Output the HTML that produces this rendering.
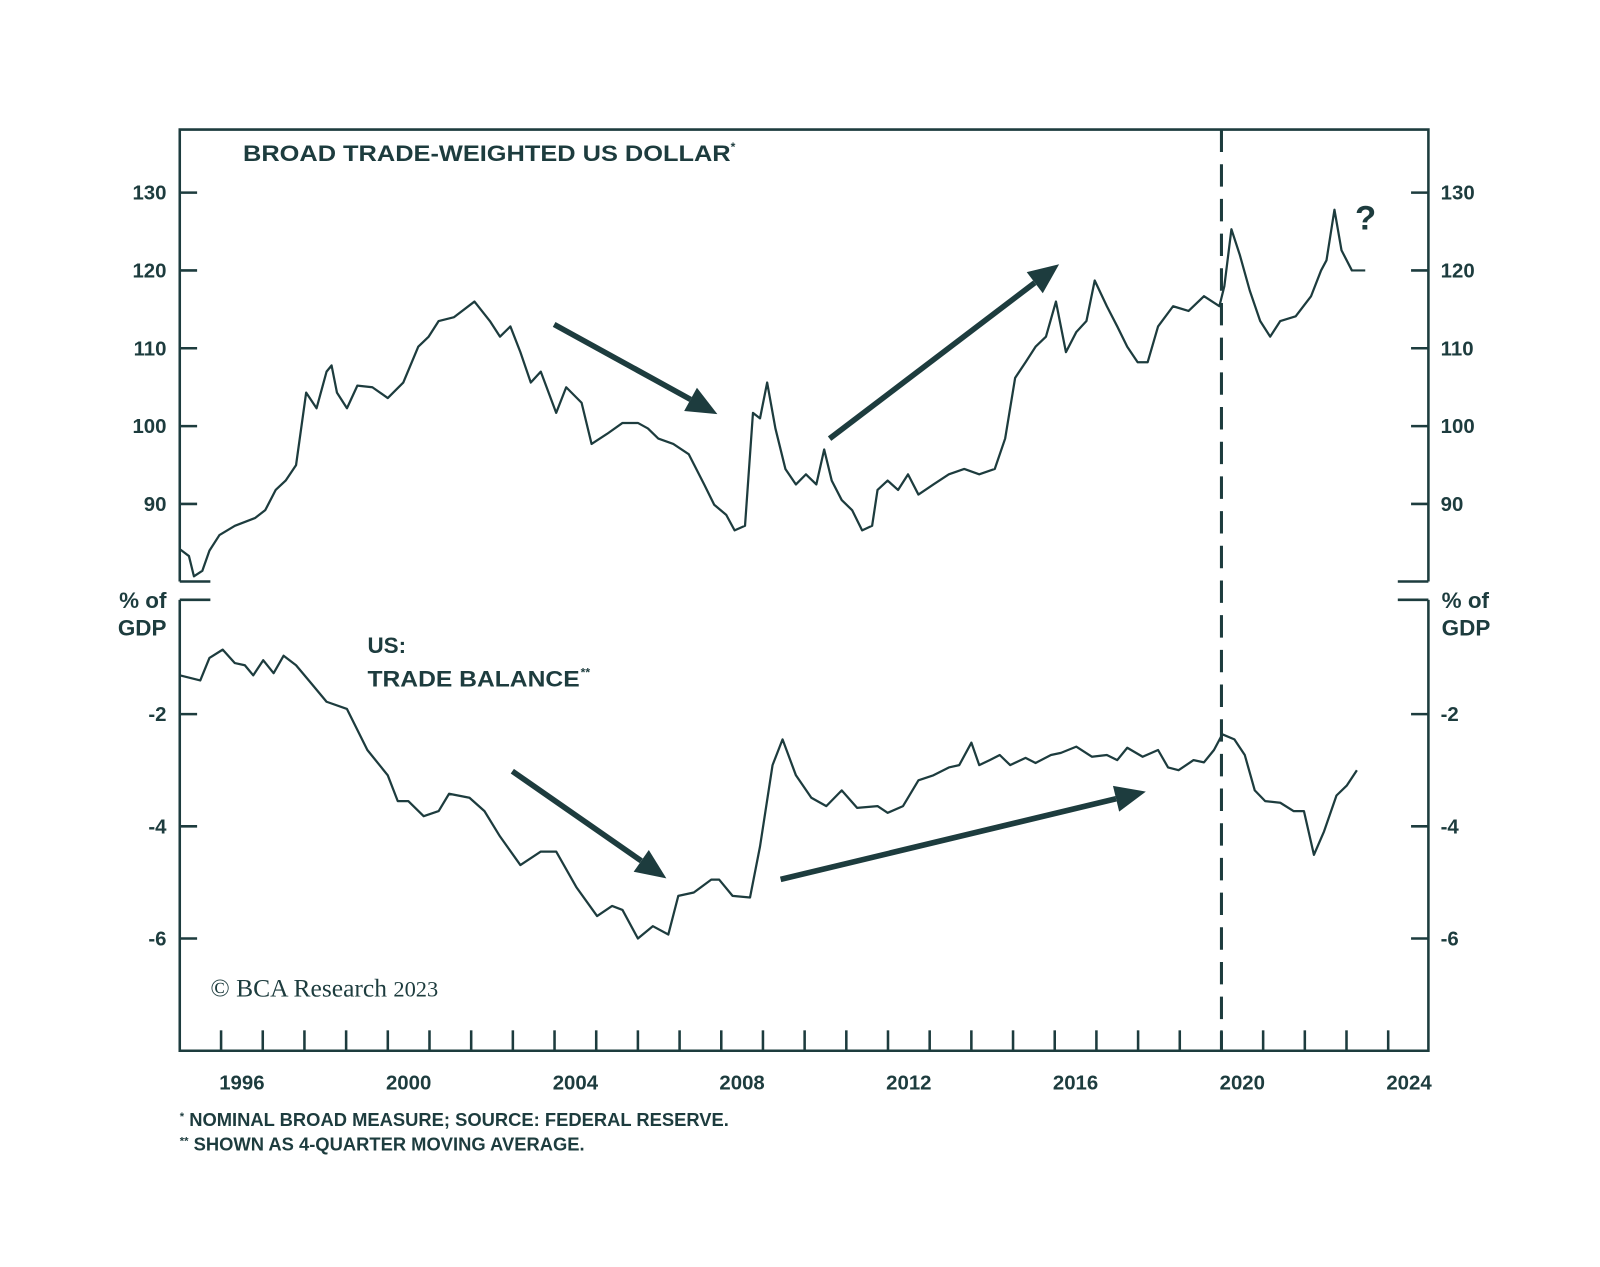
<!DOCTYPE html>
<html><head><meta charset="utf-8">
<style>
html,body{margin:0;padding:0;background:#fff;}
svg{display:block;}
text{font-family:"Liberation Sans",sans-serif;fill:#1d3c3e;}
</style></head>
<body>
<svg id="chart" width="1600" height="1267" viewBox="0 0 1568 1242" xmlns="http://www.w3.org/2000/svg">
<rect width="1568" height="1242" fill="#fff"/>
<g id="frame" stroke="#1d3c3e" stroke-width="2.5" fill="none">
  <path d="M176,570 L176,127 L1400,127 L1400,570"/>
  <path d="M176,570 L206,570 M1370,570 L1400,570"/>
  <path d="M176,588 L206,588 M1370,588 L1400,588"/>
  <path d="M176,588 L176,1030 L1400,1030 L1400,588"/>
</g>
<text x="238" y="158" font-size="22" font-weight="bold" textLength="478" lengthAdjust="spacingAndGlyphs">BROAD TRADE-WEIGHTED US DOLLAR</text>
<text x="716" y="148" font-size="12" font-weight="bold">*</text>
<text x="360" y="640" font-size="22" font-weight="bold">US:</text>
<text x="360" y="673" font-size="22" font-weight="bold" textLength="208" lengthAdjust="spacingAndGlyphs">TRADE BALANCE</text>
<text x="569" y="663" font-size="12" font-weight="bold">**</text>
<text x="163" y="596" font-size="22" font-weight="bold" text-anchor="end">% of</text>
<text x="163" y="623" font-size="22" font-weight="bold" text-anchor="end">GDP</text>
<text x="1413" y="596" font-size="22" font-weight="bold">% of</text>
<text x="1413" y="623" font-size="22" font-weight="bold">GDP</text>
<text x="1328" y="225" font-size="34" font-weight="bold">?</text>
<text x="206" y="977" font-size="25" style="font-family:'Liberation Serif',serif">© BCA Research <tspan font-size="22">2023</tspan></text>
<text x="176" y="1104" font-size="18" font-weight="bold"><tspan font-size="11" dy="-6">*</tspan><tspan dy="6"> NOMINAL BROAD MEASURE; SOURCE: FEDERAL RESERVE.</tspan></text>
<text x="176" y="1128" font-size="18" font-weight="bold"><tspan font-size="11" dy="-6">**</tspan><tspan dy="6"> SHOWN AS 4-QUARTER MOVING AVERAGE.</tspan></text>
<g id="axes"></g>
<g id="series"></g>
<g id="arrows" fill="#1d3c3e" stroke="#1d3c3e"></g>
</svg>
<script>
// ---- data ----
const dollarYears = [1995.01,1995.23,1995.35,1995.55,1995.72,1995.96,1996.33,1996.82,1997.06,1997.31,1997.55,1997.80,1998.04,1998.29,1998.53,1998.65,1998.78,1999.02,1999.27,1999.63,2000.00,2000.37,2000.73,2000.98,2001.22,2001.59,2002.08,2002.45,2002.69,2002.94,2003.18,2003.43,2003.67,2004.04,2004.28,2004.65,2004.89,2005.26,2005.63,2006.00,2006.24,2006.49,2006.85,2007.22,2007.59,2007.83,2008.12,2008.32,2008.57,2008.76,2008.93,2009.10,2009.30,2009.54,2009.79,2010.03,2010.28,2010.47,2010.65,2010.89,2011.14,2011.38,2011.62,2011.75,2011.99,2012.24,2012.48,2012.73,2013.09,2013.46,2013.83,2014.19,2014.56,2014.81,2015.05,2015.30,2015.54,2015.79,2016.03,2016.27,2016.52,2016.76,2016.96,2017.25,2017.50,2017.74,2017.99,2018.23,2018.48,2018.84,2019.21,2019.58,2019.95,2020.07,2020.24,2020.44,2020.68,2020.93,2021.17,2021.41,2021.78,2022.15,2022.39,2022.52,2022.71,2022.88,2023.13,2023.45];
const dollarValues = [84.2,83.3,80.7,81.4,84,86,87.2,88.2,89.2,91.8,93,95,104.3,102.3,107,107.8,104.3,102.3,105.2,105,103.6,105.6,110.2,111.5,113.5,114,116,113.5,111.5,112.8,109.5,105.6,107,101.7,105,103,97.7,99,100.4,100.4,99.7,98.4,97.7,96.4,92.5,89.9,88.6,86.6,87.2,101.7,101,105.6,99.7,94.5,92.5,93.8,92.5,97,93,90.5,89.2,86.6,87.2,91.8,93,91.8,93.8,91.2,92.5,93.8,94.5,93.8,94.5,98.4,106.2,108.2,110.2,111.5,116,109.5,112.1,113.5,118.7,115.4,112.8,110.2,108.2,108.2,112.8,115.4,114.8,116.7,115.4,118,125.3,122,117.4,113.5,111.5,113.5,114.1,116.7,120,121.3,127.8,122.6,120,120];
const tradeYears = [1995.01,1995.50,1995.72,1996.04,1996.33,1996.57,1996.77,1997.01,1997.26,1997.50,1997.80,1998.16,1998.53,1999.02,1999.51,2000.00,2000.24,2000.49,2000.86,2001.22,2001.47,2001.96,2002.32,2002.69,2003.18,2003.67,2004.04,2004.53,2005.02,2005.38,2005.63,2006.00,2006.36,2006.73,2006.97,2007.34,2007.76,2007.95,2008.27,2008.69,2008.93,2009.23,2009.47,2009.79,2010.16,2010.52,2010.89,2011.26,2011.75,2011.99,2012.36,2012.73,2013.09,2013.46,2013.71,2014.00,2014.19,2014.44,2014.68,2014.93,2015.30,2015.54,2015.91,2016.15,2016.52,2016.89,2017.25,2017.50,2017.74,2018.11,2018.48,2018.72,2018.97,2019.33,2019.58,2019.82,2020.02,2020.31,2020.56,2020.80,2021.05,2021.41,2021.73,2021.98,2022.22,2022.46,2022.76,2023.01,2023.25];
const tradeValues = [-1.31,-1.4,-1.0,-0.85,-1.09,-1.13,-1.31,-1.04,-1.27,-0.96,-1.13,-1.45,-1.78,-1.91,-2.64,-3.09,-3.55,-3.55,-3.82,-3.73,-3.42,-3.49,-3.73,-4.18,-4.69,-4.45,-4.45,-5.09,-5.6,-5.42,-5.49,-6.0,-5.78,-5.93,-5.24,-5.18,-4.95,-4.95,-5.24,-5.27,-4.36,-2.91,-2.45,-3.09,-3.49,-3.64,-3.36,-3.67,-3.64,-3.76,-3.64,-3.18,-3.09,-2.95,-2.91,-2.51,-2.91,-2.82,-2.73,-2.91,-2.78,-2.87,-2.73,-2.69,-2.58,-2.76,-2.73,-2.82,-2.6,-2.76,-2.64,-2.95,-3.0,-2.82,-2.86,-2.64,-2.36,-2.45,-2.73,-3.36,-3.55,-3.58,-3.73,-3.73,-4.51,-4.09,-3.45,-3.27,-3.0];
const dollarTicks = [90,100,110,120,130];
const tradeTicks = [-2,-4,-6];
const yearLabels = [1996,2000,2004,2008,2012,2016,2020,2024];
const dashedYear = 2020.0;

// ---- scales ----
const C = '#1d3c3e';
const xS = t => 216.5 + (t - 1996) * 40.86;
const yD = v => 494 - (v - 90) * 7.63;
const yT = v => 700 - (v + 2) * 55;
const NS = 'http://www.w3.org/2000/svg';
const axes = document.getElementById('axes');
const series = document.getElementById('series');
function mk(tag, attrs, parent) {
  const e = document.createElementNS(NS, tag);
  for (const k in attrs) e.setAttribute(k, attrs[k]);
  parent.appendChild(e);
  return e;
}
// y ticks
dollarTicks.forEach(v => {
  const y = yD(v);
  const tl = mk('line', {x1:176, x2:193, y1:y, y2:y, stroke:C, 'stroke-width':2.5}, axes);
  
  
  const tr = mk('line', {x1:1383, x2:1400, y1:y, y2:y, stroke:C, 'stroke-width':2.5}, axes);
  
  
  const a = mk('text', {x:163, y:y+7, 'font-size':20, 'font-weight':'bold', 'text-anchor':'end'}, axes);
  a.textContent = v;
  
  
  const b = mk('text', {x:1412, y:y+7, 'font-size':20, 'font-weight':'bold'}, axes);
  b.textContent = v;
  
  
});
tradeTicks.forEach(v => {
  const y = yT(v);
  const tl = mk('line', {x1:176, x2:193, y1:y, y2:y, stroke:C, 'stroke-width':2.5}, axes);
  
  
  const tr = mk('line', {x1:1383, x2:1400, y1:y, y2:y, stroke:C, 'stroke-width':2.5}, axes);
  
  
  const a = mk('text', {x:163, y:y+7, 'font-size':20, 'font-weight':'bold', 'text-anchor':'end'}, axes);
  a.textContent = '-' + Math.abs(v);
  
  
  const b = mk('text', {x:1412, y:y+7, 'font-size':20, 'font-weight':'bold'}, axes);
  b.textContent = '-' + Math.abs(v);
  
  
});
// x ticks
for (let yr = 1995; yr <= 2024; yr++) {
  const x = xS(yr);
  if (x <= 176 || x >= 1400) continue;
  const t = mk('line', {x1:x, x2:x, y1:1030, y2:1010, stroke:C, 'stroke-width':2.5}, axes);
  
  
}
yearLabels.forEach(yr => {
  const l = mk('text', {x:xS(yr + 0.5), y:1068, 'font-size':20, 'font-weight':'bold', 'text-anchor':'middle'}, axes);
  l.textContent = yr;
  
  
});
// dashed line
const dl = mk('line', {x1:xS(dashedYear), x2:xS(dashedYear), y1:127, y2:1030, stroke:C, 'stroke-width':3, 'stroke-dasharray':'22,12'}, series);


// series
const dp = mk('polyline', {points: dollarYears.map((t,i)=>xS(t).toFixed(1)+','+yD(dollarValues[i]).toFixed(1)).join(' '), fill:'none', stroke:C, 'stroke-width':2.2, 'stroke-linejoin':'round'}, series);


const tp = mk('polyline', {points: tradeYears.map((t,i)=>xS(t).toFixed(1)+','+yT(tradeValues[i]).toFixed(1)).join(' '), fill:'none', stroke:C, 'stroke-width':2.2, 'stroke-linejoin':'round'}, series);


// arrows (annotations)
const arrowsG = document.getElementById('arrows');
function arrow(x1,y1,x2,y2,name){
  const dx=x2-x1, dy=y2-y1, L=Math.hypot(dx,dy), ux=dx/L, uy=dy/L;
  const hl=30, hw=13;
  const bx=x2-ux*hl, by=y2-uy*hl;
  const g = mk('g', {}, arrowsG);
  
  
  mk('line', {x1:x1, y1:y1, x2:bx, y2:by, 'stroke-width':5.5}, g);
  mk('polygon', {points:`${x2},${y2} ${bx-uy*hw},${by+ux*hw} ${bx+uy*hw},${by-ux*hw}`, stroke:'none'}, g);
}
arrow(543,318,703,406,'dollar-down-arrow');
arrow(813,430,1038,259,'dollar-up-arrow');
arrow(502,756,653,861,'trade-down-arrow');
arrow(765,862,1123,776,'trade-up-arrow');
</script>
</body></html>
